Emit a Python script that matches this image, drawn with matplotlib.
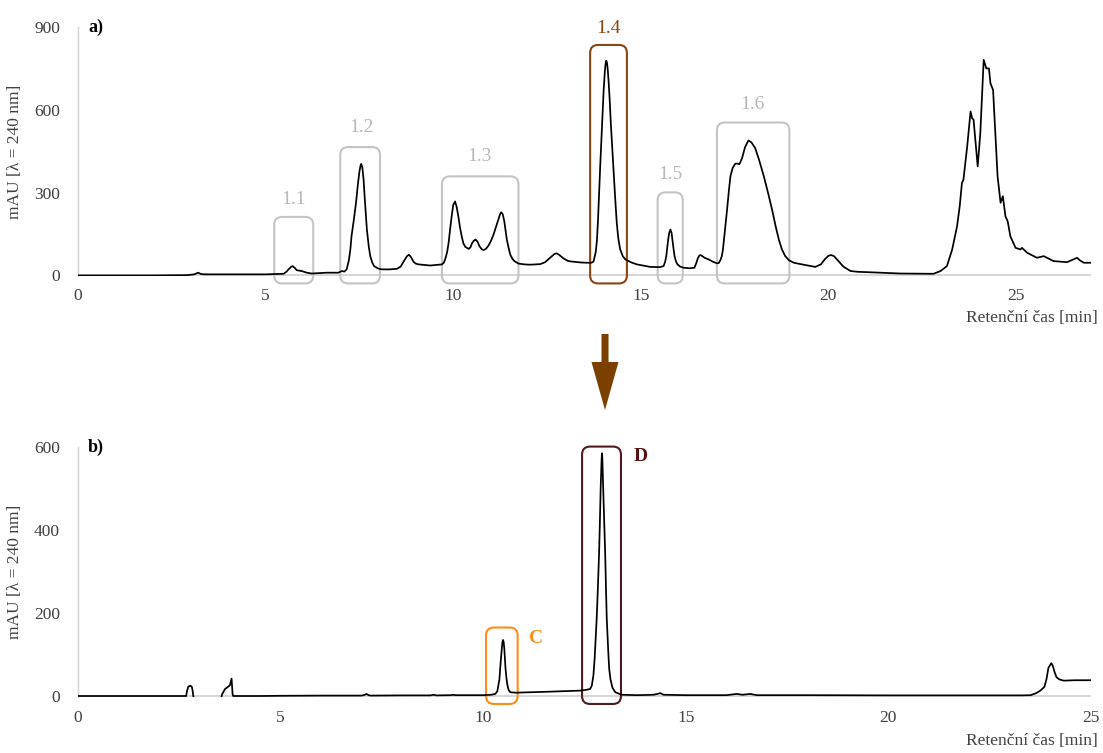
import matplotlib
matplotlib.use("Agg")
import matplotlib.pyplot as plt
from matplotlib.patches import FancyBboxPatch, FancyArrow

plt.rcParams['font.family'] = ['Liberation Serif', 'DejaVu Serif']

# ---------------- data: panel a) (retention time [min], mAU) ----------------
t_a = [0, 1, 2, 2.9, 3.1, 3.2, 3.28, 3.4, 4.0, 4.6, 5.0, 5.2,
       # 1.1
       5.48, 5.56, 5.61, 5.67, 5.72, 5.78, 5.83, 5.96, 6.1, 6.23, 6.63, 6.94,
       # 1.2
       7.03, 7.1, 7.16, 7.22, 7.26, 7.29, 7.35, 7.41, 7.46, 7.5, 7.53, 7.55, 7.58,
       7.61, 7.65, 7.7, 7.75, 7.79, 7.84, 7.89, 8.0, 8.1, 8.3,
       # small peak 8.8
       8.5, 8.6, 8.7, 8.77, 8.82, 8.87, 8.94, 9.0, 9.08, 9.39,
       # 1.3
       9.7, 9.75, 9.79, 9.84, 9.88, 9.92, 9.96, 10.0, 10.05, 10.09, 10.14, 10.18,
       10.23, 10.27, 10.32, 10.41, 10.46, 10.5, 10.55, 10.6, 10.65, 10.7, 10.76,
       10.81, 10.87, 10.94, 11.01, 11.08, 11.15, 11.21, 11.25, 11.28, 11.32, 11.36,
       11.4, 11.43, 11.48, 11.52, 11.58, 11.63, 11.74, 11.9, 12.05, 12.32,
       # bump 12.76
       12.45, 12.6, 12.7, 12.76, 12.83, 12.94, 13.05, 13.12, 13.4, 13.56, 13.68,
       # 1.4
       13.74, 13.8, 13.83, 13.86, 13.89, 13.92, 13.95, 13.98, 14.01, 14.04, 14.06,
       14.08, 14.1, 14.12, 14.14, 14.17, 14.2, 14.24, 14.28, 14.32, 14.36, 14.4,
       14.45, 14.52, 14.59, 14.75, 14.9, 15.25, 15.5,
       # 1.5
       15.61, 15.65, 15.68, 15.71, 15.73, 15.76, 15.79, 15.82, 15.84, 15.87, 15.9,
       15.94, 15.98, 16.05, 16.14, 16.3, 16.43,
       # small peak 16.6
       16.48, 16.52, 16.56, 16.59, 16.64, 16.7, 16.81, 16.92, 17.03,
       # 1.6
       17.08, 17.12, 17.16, 17.19, 17.24, 17.3, 17.35, 17.39, 17.45, 17.52, 17.58,
       17.63, 17.7, 17.78, 17.87, 17.95, 18.05, 18.15, 18.28, 18.4, 18.5, 18.6,
       18.68, 18.76, 18.85, 18.95, 19.08, 19.3, 19.65,
       # peak 20
       19.8, 19.9, 20.0, 20.07, 20.15, 20.25, 20.4, 20.59, 20.8, 21.03, 21.92, 22.8,
       # large cluster 23-27
       22.99, 23.16, 23.3, 23.43, 23.5, 23.56, 23.6, 23.7, 23.79, 23.83, 23.87,
       23.98, 24.05, 24.14, 24.21, 24.28, 24.32, 24.39, 24.45, 24.51, 24.59, 24.65,
       24.72, 24.78, 24.85, 24.99, 25.12, 25.16, 25.3, 25.56, 25.74, 26.0, 26.36,
       26.63, 26.7, 26.81, 27.0]
v_a = [0, 0, 0, 1, 4, 10, 5, 4, 4, 4, 4, 5,
       # 1.1
       6, 14, 22, 30, 34, 27, 19, 16, 10, 7, 10, 10,
       # 1.2
       16, 14, 22, 55, 95, 142, 200, 263, 330, 375, 398, 404, 390,
       350, 265, 166, 105, 70, 48, 34, 25, 22, 22,
       # small peak 8.8
       24, 32, 55, 70, 75, 68, 50, 43, 40, 36,
       # 1.3
       40, 46, 60, 85, 120, 170, 215, 255, 268, 250, 212, 175,
       140, 117, 104, 96, 102, 116, 126, 130, 122, 106, 95,
       92, 96, 108, 126, 150, 180, 205, 222, 229, 222, 198,
       160, 130, 98, 76, 60, 52, 43, 40, 39, 41,
       # bump 12.76
       48, 66, 78, 80, 74, 62, 53, 51, 47, 46, 46,
       # 1.4
       50, 85, 125, 200, 305, 400, 490, 585, 670, 735, 765,
       778, 770, 745, 708, 640, 555, 460, 370, 275, 190, 135,
       95, 70, 58, 47, 40, 31, 30,
       # 1.5
       34, 50, 70, 105, 130, 155, 166, 155, 132, 100, 70,
       50, 40, 32, 28, 26, 28,
       # small peak 16.6
       45, 62, 72, 74, 70, 64, 58, 50, 44,
       # 1.6
       45, 55, 70, 94, 160, 238, 310, 359, 390, 405, 405,
       403, 425, 465, 489, 482, 461, 420, 359, 295, 238, 175,
       130, 95, 70, 55, 46, 40, 31,
       # peak 20
       40, 58, 71, 74, 70, 55, 32, 16, 13, 12, 7, 6,
       # large cluster 23-27
       16, 34, 94, 178, 250, 335, 347, 467, 594, 570, 564,
       395, 516, 781, 750, 750, 696, 672, 516, 359, 263, 287,
       214, 196, 142, 100, 94, 100, 82, 64, 70, 52, 48,
       64, 55, 46, 46]

# ---------------- data: panel b) ----------------
t_b = [0, 2.6, 2.67, 2.69, 2.72, 2.77, 2.81, 2.83, 2.845, 2.87, 3.52, 3.545,
       3.56, 3.63, 3.7, 3.75, 3.79, 3.815, 3.83, 4.5, 5.0, 6.0, 7.0, 7.08, 7.12,
       7.17, 7.22, 8.0, 8.7, 8.77, 8.85, 9.2, 9.26, 9.32, 10.0, 10.2,
       # C
       10.3, 10.35, 10.4, 10.42, 10.44, 10.46, 10.475, 10.49, 10.505, 10.52, 10.535,
       10.55, 10.575, 10.6, 10.63, 10.67, 10.8, 11.5, 12.4, 12.55,
       # D
       12.64, 12.68, 12.72, 12.75, 12.8, 12.83, 12.86, 12.88, 12.9, 12.92, 12.93,
       12.94, 12.96, 12.98, 13.01, 13.03, 13.05, 13.09, 13.11, 13.14, 13.19, 13.26,
       13.42, 13.8, 14.2, 14.3, 14.37, 14.45, 15.0, 16.0, 16.26, 16.4, 16.59, 16.75,
       18.0, 20.0, 22.0, 23.3, 23.51, 23.65, 23.75, 23.85, 23.9, 23.95, 24.02, 24.06,
       24.1, 24.15, 24.22, 24.33, 24.6, 25.0]
v_b = [0, 0, 0, 12, 22, 25, 22, 12, 0, -12, -12, 0,
       5, 17, 22, 26, 42, 5, 0, 0, 0.5, 1, 1, 3, 5,
       2, 1, 1.5, 1.5, 3, 1.5, 2, 3, 2, 2, 3,
       # C
       5, 12, 40, 67, 92, 115, 130, 135, 130, 115, 92,
       67, 42, 25, 14, 9, 8, 10, 13, 15,
       # D
       17, 25, 50, 90, 185, 260, 345, 420, 505, 565, 585,
       575, 505, 440, 345, 260, 185, 100, 65, 41, 20, 9,
       3, 2, 3, 5, 7, 3, 2, 2, 5, 3, 5, 2,
       2, 1.5, 1.5, 1.5, 2, 7, 13, 22, 40, 68, 79, 72,
       58, 45, 40, 37, 38, 38]

assert len(t_a) == len(v_a) and len(t_b) == len(v_b)

# annotation boxes: (label, x0, x1, y_top, colour, text x, text y)
boxes_a = [("1.1", 5.23, 6.27, 212, "#c4c4c4", 5.74, 275),
           ("1.2", 6.99, 8.05, 465, "#c4c4c4", 7.55, 535),
           ("1.3", 9.70, 11.74, 359, "#c4c4c4", 10.69, 431),
           ("1.4", 13.65, 14.63, 835, "#8a4510", 14.14, 895),
           ("1.5", 15.45, 16.12, 301, "#c4c4c4", 15.80, 365),
           ("1.6", 17.03, 18.96, 554, "#c4c4c4", 17.98, 618)]
boxes_b = [("C", 10.07, 10.85, 165, "#ff8c1a", 11.31, 139),
           ("D", 12.44, 13.40, 601, "#4e1c1c", 13.88, 577)]
box_a_text_colors = {"1.1": "#b8b8b8", "1.2": "#b8b8b8", "1.3": "#b8b8b8",
                     "1.4": "#8a4510", "1.5": "#b8b8b8", "1.6": "#b8b8b8"}
box_b_text_colors = {"C": "#ff8c1a", "D": "#5a0f0f"}

W, H = 1103, 753
fig = plt.figure(figsize=(W / 100, H / 100), dpi=100)

ax_a = fig.add_axes([78 / W, 1 - 276 / H, 1013 / W, 249 / H])
ax_b = fig.add_axes([78 / W, 1 - 697 / H, 1013 / W, 250 / H])

axis_grey = "#d0d0d0"
tick_col = "#404040"

def style(ax, xmax, ymax, yticks, ymin):
    ax.set_xlim(0, xmax)
    ax.set_ylim(ymin, ymax)
    for s in ["top", "right", "bottom"]:
        ax.spines[s].set_visible(False)
    ax.spines["left"].set_color(axis_grey)
    ax.spines["left"].set_linewidth(1.0)
    ax.axhline(0, color=axis_grey, lw=1.2, zorder=1)
    ax.set_xticks(range(0, xmax + 1, 5))
    ax.set_yticks(yticks)
    ax.tick_params(length=0, labelsize=12.5, colors=tick_col)
    ax.tick_params(axis="x", pad=9)
    ax.tick_params(axis="y", pad=13)
    ax.set_ylabel("mAU [λ = 240 nm]", fontsize=12.5, color=tick_col, labelpad=8)
    ax.patch.set_alpha(0)

style(ax_a, 27, 900, [0, 300, 600, 900], -2)
style(ax_b, 25, 600, [0, 200, 400, 600], -2.4)

ax_a.plot(t_a, v_a, color="black", lw=1.25, zorder=3, solid_joinstyle="round")
ax_b.plot(t_b, v_b, color="black", lw=1.25, zorder=3, solid_joinstyle="round")

def add_boxes(ax, boxes, px_per_x, px_per_y, text_colors, fs, weight):
    aspect = px_per_x / px_per_y
    r = 8 / px_per_x
    ybot = -8 / px_per_y
    for lab, x0, x1, ytop, col, tx, ty in boxes:
        p = FancyBboxPatch((x0, ybot), x1 - x0, ytop - ybot,
                           boxstyle=f"round,pad=0,rounding_size={r}",
                           mutation_aspect=aspect, fill=False, edgecolor=col,
                           lw=1.5, clip_on=False, zorder=2)
        ax.add_patch(p)
        ax.text(tx, ty, lab, ha="center", va="center", fontsize=fs,
                color=text_colors.get(lab, col), fontweight=weight, clip_on=False)

add_boxes(ax_a, boxes_a, 1013 / 27, 249 / 900, box_a_text_colors, 14, "normal")
add_boxes(ax_b, boxes_b, 1013 / 25, 250 / 600, box_b_text_colors, 14, "bold")

# overlay in pixel coordinates for panel letters, axis titles and arrow
ov = fig.add_axes([0, 0, 1, 1])
ov.set_xlim(0, W)
ov.set_ylim(H, 0)
ov.axis("off")
ov.patch.set_alpha(0)
ov.text(88, 27, "a)", fontsize=13, fontweight="bold", va="center", ha="left")
ov.text(88, 447, "b)", fontsize=13, fontweight="bold", va="center", ha="left")
ov.text(1098, 318, "Retenční čas [min]", fontsize=12.5, color=tick_col, ha="right", va="center")
ov.text(1098, 741, "Retenční čas [min]", fontsize=12.5, color=tick_col, ha="right", va="center")
ov.add_patch(FancyArrow(605, 334, 0, 76, width=7, head_width=27, head_length=48,
                        length_includes_head=True, color="#7b3f00", lw=0))

fig.savefig("out.png", dpi=100)
